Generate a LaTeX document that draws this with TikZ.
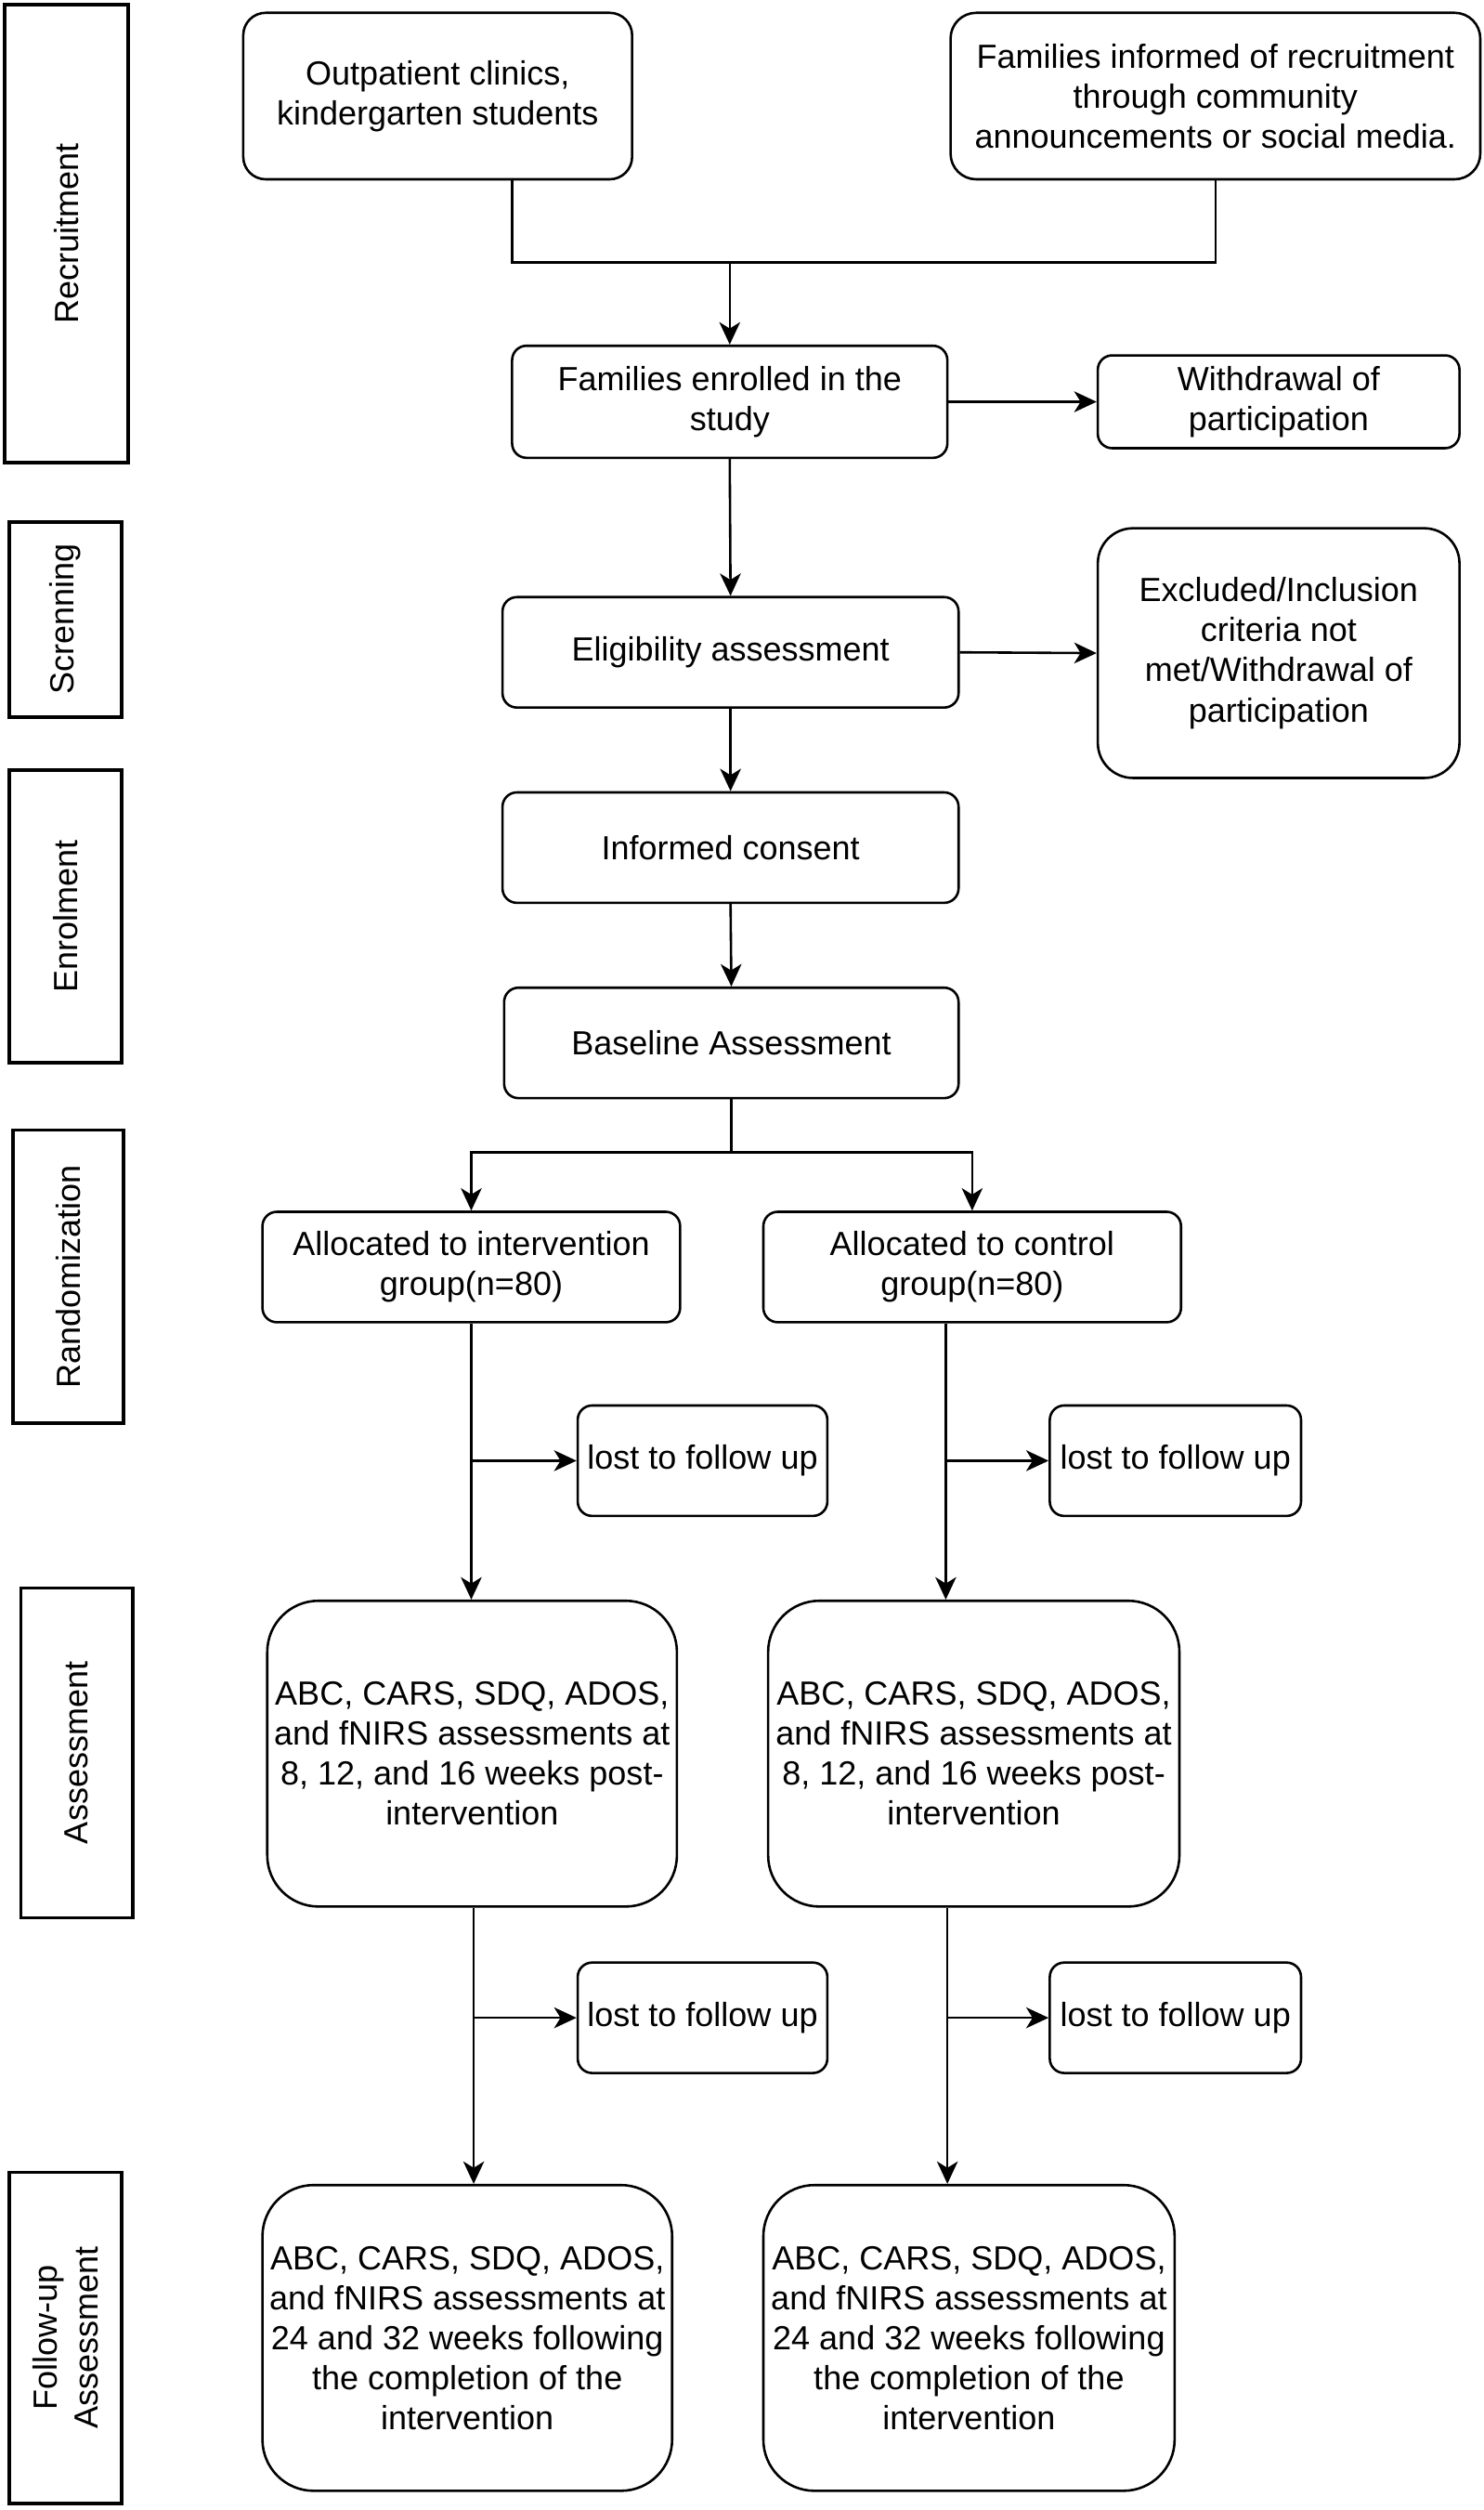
\documentclass[tikz,border=0pt]{standalone}
\usepackage{fontspec}
\setmainfont{Liberation Sans}
\usetikzlibrary{arrows.meta,calc}
\begin{document}
\begin{tikzpicture}[x=1pt,y=-1pt,
  txt/.style={font=\fontsize{20.9}{25}\selectfont, align=center},
  box/.style={txt, draw, line width=1.5pt, rounded corners=9pt, inner sep=0pt},
  lane/.style={draw, line width=2.2pt, rotate=90, inner sep=0pt, font=\fontsize{20.9}{25}\selectfont, align=center},
  conn/.style={line width=1.5pt},
  arr/.style={conn, -{Stealth[length=14pt,width=13pt,inset=4pt]}},
]
\useasboundingbox (0,0) rectangle (927.3,1568);

% lanes
\node[lane, minimum width=286pt, minimum height=77pt] (lrec) at (41.5,146) {Recruitment};
\node[lane, minimum width=122pt, minimum height=70pt] (lscr) at (41,387) {Screnning};
\node[lane, minimum width=183pt, minimum height=70pt] (lenr) at (41,572.5) {Enrolment};
\node[lane, minimum width=183pt, minimum height=69pt] (lran) at (42.5,797.5) {Randomization};
\node[lane, minimum width=206pt, minimum height=70pt] (lass) at (48,1095) {Assessment};
\node[lane, minimum width=207pt, minimum height=70pt] (lfol) at (41,1460.5) {Follow-up\\Assessment};

% main boxes
\node[box, minimum width=243pt, minimum height=104pt, rounded corners=14pt] (A) at (273.5,60) {Outpatient clinics,\\kindergarten students};
\node[box, minimum width=331pt, minimum height=104pt, rounded corners=16pt] (B) at (759.5,60) {Families informed of recruitment\\through community\\announcements or social media.};
\node[box, minimum width=272pt, minimum height=70pt] (C) at (456,251) {Families enrolled in the\\study};
\node[box, minimum width=226pt, minimum height=58pt] (W) at (799,251) {Withdrawal of\\participation};
\node[box, minimum width=285pt, minimum height=69pt] (E) at (456.5,407.5) {Eligibility assessment};
\node[box, minimum width=226pt, minimum height=156pt, rounded corners=22pt] (X) at (799,408) {Excluded/Inclusion\\criteria not\\met/Withdrawal of\\participation};
\node[box, minimum width=285pt, minimum height=69pt] (IC) at (456.5,529.5) {Informed consent};
\node[box, minimum width=284pt, minimum height=69pt] (BA) at (457,651.5) {Baseline Assessment};
\node[box, minimum width=261pt, minimum height=69pt] (AI) at (294.5,791.5) {Allocated to intervention\\group(n=80)};
\node[box, minimum width=261pt, minimum height=69pt] (AC) at (607.5,791.5) {Allocated to control\\group(n=80)};
\node[box, minimum width=156pt, minimum height=69pt] (L1) at (439,912.5) {lost to follow up};
\node[box, minimum width=157pt, minimum height=69pt] (L2) at (734.5,912.5) {lost to follow up};
\node[box, minimum width=256pt, minimum height=191pt, rounded corners=32pt] (ASI) at (295,1095.5) {ABC, CARS, SDQ, ADOS,\\and fNIRS assessments at\\8, 12, and 16 weeks post-\\intervention};
\node[box, minimum width=257pt, minimum height=191pt, rounded corners=32pt] (ASC) at (608.5,1095.5) {ABC, CARS, SDQ, ADOS,\\and fNIRS assessments at\\8, 12, and 16 weeks post-\\intervention};
\node[box, minimum width=156pt, minimum height=69pt] (L3) at (439,1260.5) {lost to follow up};
\node[box, minimum width=157pt, minimum height=69pt] (L4) at (734.5,1260.5) {lost to follow up};
\node[box, minimum width=256pt, minimum height=191pt, rounded corners=32pt] (FI) at (292,1460.5) {ABC, CARS, SDQ, ADOS,\\and fNIRS assessments at\\24 and 32 weeks following\\the completion of the\\intervention};
\node[box, minimum width=257pt, minimum height=191pt, rounded corners=32pt] (FC) at (605.5,1460.5) {ABC, CARS, SDQ, ADOS,\\and fNIRS assessments at\\24 and 32 weeks following\\the completion of the\\intervention};

% connectors
\coordinate (ja) at (320,164);
\coordinate (jb) at (759.5,164);
\draw[conn] (A.south -| ja) -- (ja) -- (jb) -- (B.south);
\draw[arr] (ja -| C.north) -- (C.north);
\draw[arr] (C.east) -- (W.west);
\draw[arr] (C.south) -- (E.north);
\draw[arr] (E.east) -- (X.west);
\draw[arr] (E.south) -- (IC.north);
\draw[arr] (IC.south) -- (BA.north);
\coordinate (js) at (457,720);
\draw[conn] (BA.south) -- (js);
\draw[arr] (js) -| (AI.north);
\draw[arr] (js) -| (AC.north);

\coordinate (cl1) at (294.5,0);
\coordinate (cr1) at (591,0);
\coordinate (cl2) at (296,0);
\coordinate (cr2) at (592,0);
\draw[arr] (AI.south -| cl1) -- (ASI.north -| cl1);
\draw[arr] (L1.west -| cl1) -- (L1.west);
\draw[arr] (AC.south -| cr1) -- (ASC.north -| cr1);
\draw[arr] (L2.west -| cr1) -- (L2.west);
\draw[arr] (ASI.south -| cl2) -- (FI.north -| cl2);
\draw[arr] (L3.west -| cl2) -- (L3.west);
\draw[arr] (ASC.south -| cr2) -- (FC.north -| cr2);
\draw[arr] (L4.west -| cr2) -- (L4.west);
\end{tikzpicture}
\end{document}
